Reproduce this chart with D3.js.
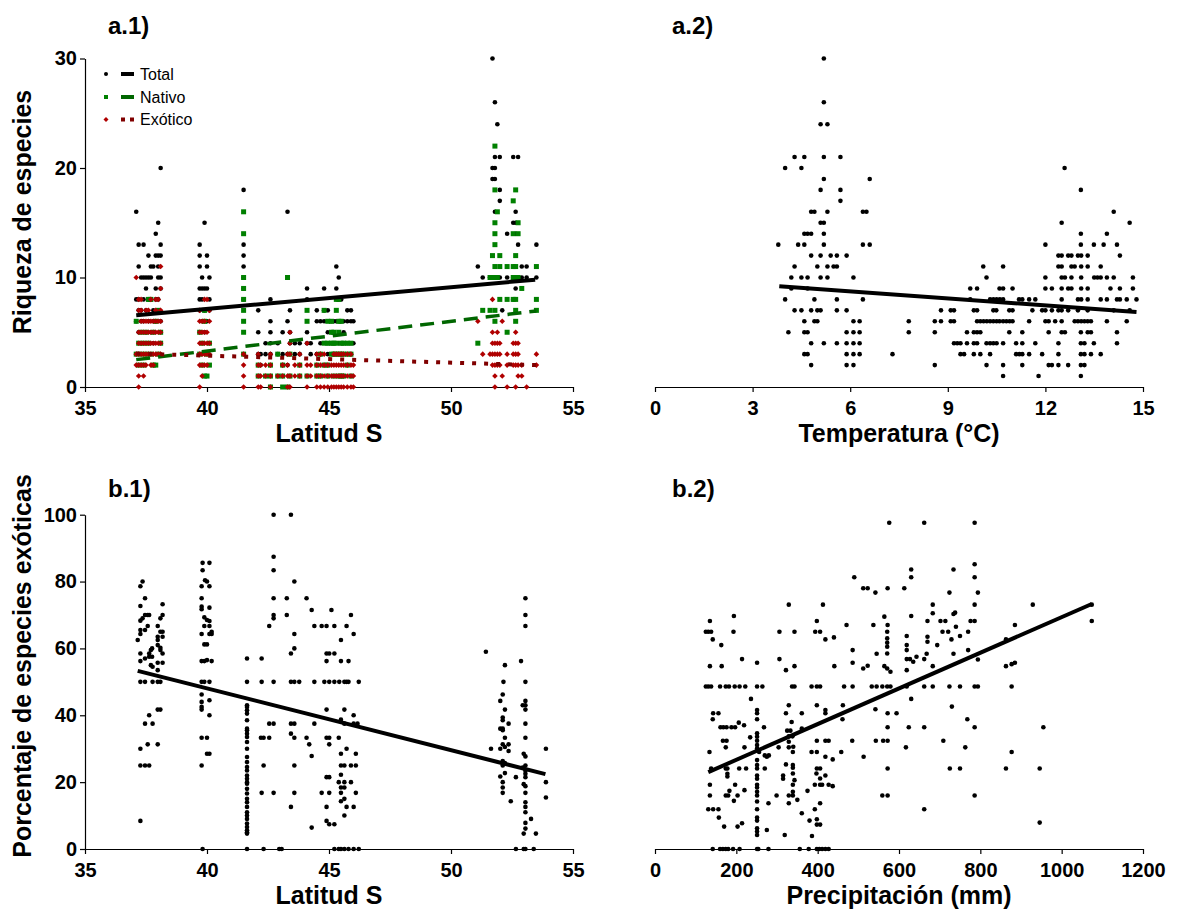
<!DOCTYPE html>
<html>
<head>
<meta charset="utf-8">
<script src="https://d3js.org/d3.v7.min.js"></script>
<style>
  body { margin: 0; background: #fff; }
  svg text { font-family: "Liberation Sans", Arial, sans-serif; }
</style>
</head>
<body>
<div id="chart-area"></div>
<script>
// a.1) riqueza vs latitud, columnas: [latitud, [valores]]
const latTotal = [
  [37.1,[16,8,6]],[37.2,[13,11,8,7,5]],[37.3,[10,7,6,4]],[37.4,[13,10,8,6]],[37.5,[10,9,7,5]],
  [37.6,[12,10,8,6]],[37.7,[11,10,8,5]],[37.8,[11,7,6,4]],[37.9,[14,12,9,8,6]],[38.0,[15,12,11,10,8,7]],
  [38.1,[20,13,12,10,9,6]],
  [39.7,[13,12,11,9,8,7]],[39.8,[10,9,8,6]],[39.9,[15,9,7,5]],[40.0,[12,11,9,6]],[40.1,[10,8,7]],
  [41.5,[18,13,12,11,10,9,8]],
  [42.1,[7,5,3]],[42.2,[3,2]],[42.4,[3,4]],[42.6,[8,6,5,4,3]],[42.9,[3,4]],[43.1,[5,3,2]],
  [43.3,[16,6,3,2]],[43.4,[7,5,4]],[43.6,[4,3]],[43.8,[4,3]],[44.1,[9,8,5,4]],[44.25,[3,4]],
  [44.5,[7,6,3]],[44.65,[6,4,3]],[44.8,[9,7,6]],[44.95,[7,5,4,3]],[45.1,[6,5,4]],[45.2,[6,4,3]],
  [45.3,[11,9,6]],[45.4,[10,8,6,4]],[45.5,[8,6,4,3]],[45.6,[6,5,4]],[45.75,[7,6,4]],[45.9,[7,6,4,3]],
  [46.0,[6,4]],
  [51.1,[11]],[51.3,[10]],[51.6,[10]],[51.7,[30,20,19,10]],[51.8,[26,21,20,19,16,10]],[51.9,[24,10]],
  [52.0,[21,18,17,10]],[52.1,[7]],[52.3,[14,10]],[52.55,[21,15,10,8]],[52.65,[16,15,14,10,9]],
  [52.75,[21,13,10]],[52.9,[11,10]],[53.1,[11,10]],[53.5,[13,10]]
];
const latNativo = [
  [37.1,[6,3]],[37.2,[4,2]],[37.3,[5,3]],[37.4,[4,2]],[37.5,[3,5]],[37.6,[8,4]],[37.7,[8,3]],
  [37.8,[5,2]],[37.9,[2,6]],[38.0,[7,3]],[38.1,[4,5]],
  [39.7,[3,5]],[39.8,[2,4]],[39.9,[1,6,7]],[40.0,[1,3]],[40.1,[4,2]],
  [41.5,[16,14,10,9,8,7,6,5,3]],
  [42.1,[2,1]],[42.4,[1]],[42.6,[2,0,1]],[42.9,[1,3]],[43.1,[1,2,0]],[43.3,[10,0]],[43.4,[3,1]],
  [43.8,[1,2]],[44.1,[7,6,1]],[44.5,[2,1]],[44.65,[3,1]],[44.8,[7,4,2]],[44.95,[6,4,1,2]],
  [45.1,[6,5,4,3]],[45.2,[5,4,3,1]],[45.3,[8,7,4,3]],[45.4,[8,6,5,3,1]],[45.5,[6,4,3,1]],
  [45.6,[4,3,1]],[45.75,[4,3,2]],[45.9,[4,3,1]],
  [51.1,[4]],[51.3,[7]],[51.6,[10,7]],[51.7,[12,10]],[51.8,[22,18,15,14,13,11,10,7,6]],[51.9,[16,10]],
  [52.0,[12,11,8]],[52.3,[11,8,5]],[52.55,[17,14,11,10,8]],[52.65,[18,12,11,10,8,7,6]],
  [52.75,[15,14,10]],[52.9,[9]],[53.5,[11,8,7]]
];
const latExotico = [
  [37.1,[10,3,2]],[37.2,[8,7,5,4,3,2,1,0]],[37.3,[8,7,6,5,4,3,2]],[37.4,[6,5,4,3,2,1]],
  [37.5,[7,6,5,4,3,2]],[37.6,[7,6,5,4,3]],[37.7,[8,6,5,4,3,2]],[37.8,[6,5,4,3,2]],
  [37.9,[8,7,6,5,4,3]],[38.0,[8,6,5,4,3]],[38.1,[11,9,7,6,5,4,3]],
  [39.7,[7,6,5,4,3,2,0]],[39.8,[6,5,4,3,2,1]],[39.9,[8,6,5,4,3,2]],[40.0,[8,5,4,3,2]],[40.1,[7,6,4,3]],
  [41.5,[3,2,1,0]],
  [42.1,[3,2,1,0]],[42.2,[2,1,0]],[42.4,[2,1]],[42.6,[3,2,1,0]],[42.9,[1]],[43.1,[2,1]],
  [43.3,[3,2,1,0]],[43.4,[5,4,3,1,0]],[43.6,[2,1]],[43.8,[3,2,1]],[44.1,[4,2,1,0]],[44.25,[2,1]],
  [44.5,[3,2,1,0]],[44.65,[3,2,1,0]],[44.8,[3,2,1,0]],[44.95,[2,1,0]],[45.1,[2,1,0]],
  [45.2,[3,2,1,0]],[45.3,[3,2,1,0]],[45.4,[3,2,1,0]],[45.5,[3,2,1,0]],[45.6,[3,2,1,0]],
  [45.75,[3,2,1,0]],[45.9,[3,2,1,0]],[46.0,[2,1,0]],
  [51.1,[6]],[51.3,[3]],[51.6,[3]],[51.7,[8,5,4,3,2]],[51.8,[4,3,2,1,0]],[51.9,[5,4,3,2]],
  [52.0,[4,3,2]],[52.1,[6,1]],[52.3,[3,2,0]],[52.55,[4,3,2]],[52.65,[5,4,3,2,0]],
  [52.75,[4,3,2,1]],[52.9,[2,1]],[53.1,[0]],[53.5,[3,2]]
];

// a.2) riqueza vs temperatura, filas: [valor, [temperaturas]]
const tempTotal = [
  [30,[5.19]],[26,[5.19]],[24,[5.09,5.3]],[21,[4.29,4.59,5.19,5.7]],[20,[4.0,4.5,12.59]],
  [19,[5.19,6.6]],[18,[5.09,5.7,13.09]],[17,[5.7]],[16,[4.8,4.9,5.3,6.39,6.5,14.1]],
  [15,[5.09,5.19,12.5,14.59]],[14,[4.59,4.69,4.8,5.19,13.09,13.89]],
  [13,[3.79,4.4,4.59,5.19,6.39,6.6,12.0,13.09,13.49,13.79,14.2]],
  [12,[4.8,5.09,5.4,5.59,5.89,12.4,12.5,12.7,12.8,13.0,13.1,13.3,14.29]],
  [11,[4.29,4.99,5.3,5.49,5.59,10.09,10.7,12.4,12.5,12.8,12.9,13.1,13.3,13.7]],
  [10,[4.19,4.5,4.69,5.09,5.3,6.1,10.19,12.0,12.5,12.6,12.8,13.1,13.5,13.6,13.7,13.89,14.1,14.69]],
  [9,[4.19,4.69,9.69,9.9,10.59,10.7,10.99,12.0,12.2,12.5,12.7,12.8,13.1,13.3,14.0,14.29,14.69]],
  [8,[4.0,4.9,5.59,6.39,9.69,10.3,10.4,10.5,10.6,10.7,11.19,11.29,11.5,11.69,12.5,13.0,13.1,13.3,13.7,13.89,14.2,14.29,14.5,14.8]],
  [7,[4.29,4.5,4.8,4.99,5.09,5.59,5.89,8.79,9.09,9.19,9.8,9.9,10.4,10.49,10.89,10.99,11.6,11.9,12.0,12.2,12.4,12.5,12.7,13.0,13.3,14.1,14.59]],
  [6,[4.59,4.9,4.99,6.1,6.29,7.8,8.6,8.79,9.09,9.19,9.9,10.0,10.1,10.2,10.3,10.4,10.5,10.59,10.7,10.8,10.9,10.99,11.5,12.0,12.1,12.3,12.5,12.9,13.0,13.1,13.2,13.3,13.4,13.89,14.5]],
  [5,[4.1,4.59,4.69,5.89,6.1,6.29,7.8,8.6,9.59,9.8,9.9,10.0,10.89,11.29,12.1,12.5,12.6,13.09,13.3,13.4,14.2]],
  [4,[4.8,5.19,5.59,5.89,6.1,6.29,9.19,9.29,9.39,9.59,9.8,9.9,10.19,10.3,10.4,10.5,10.7,11.1,11.29,11.69,12.4,13.09,13.2,13.49,14.2]],
  [3,[4.59,4.69,5.89,6.1,6.29,7.3,9.39,9.5,9.8,10.0,10.3,11.1,11.2,11.29,11.5,11.9,12.4,13.09,13.2,13.4,13.7]],
  [2,[4.8,5.89,6.1,8.6,10.19,10.7,11.29,12.1,12.2,12.4,12.7,13.09,13.2]],
  [1,[10.7,11.79,13.09]]
];

// b.1) % exoticas vs latitud: [latitud, %]
const latPct = [
  [37.36,80],[37.27,78.6],[37.46,75],[37.27,72.7],[38.18,73.2],[37.46,70],[37.57,70],[37.63,70],[38.18,70],
  [37.36,69],[37.27,68.3],[38.09,69],[37.57,66.7],[37.98,66.7],[37.27,65.5],[37.46,65.5],[38.09,65],[38.18,65],
  [37.27,64.3],[37.98,63.5],[38.18,63.5],[37.16,62.5],[37.98,62.5],[37.98,61],[38.09,60.2],[37.75,60],[37.7,59.5],
  [38.09,59.5],[37.63,58.5],[37.27,58.5],[38.18,58.5],[37.46,57],[37.63,57.5],[37.75,57.5],[37.27,56.2],[37.98,55.7],
  [38.18,55.7],[37.7,55],[37.77,54.5],[37.98,53.5],[37.27,50],[37.46,50],[37.77,50],[37.98,50],[38.09,50],
  [37.98,41.7],[38.09,41.7],[37.63,40],[37.46,37.5],[37.77,37.5],[37.57,31.3],[37.98,31.3],[37.27,30],
  [37.27,25],[37.46,25],[37.63,25],[37.27,8.4],
  [39.82,85.6],[40.1,85.6],[39.82,83.4],[40.0,80],[39.92,80.4],[39.78,78.6],[40.1,78.6],[39.78,75],[39.78,72.5],
  [39.78,71.7],[40.1,72.2],[39.89,69.3],[40.0,68.5],[40.1,68.2],[39.89,66.7],[40.1,66.7],[40.19,65],[39.78,64.3],
  [40.1,64.3],[40.19,64.3],[39.89,61.2],[40.0,61.2],[39.78,56.2],[39.89,56.2],[40.0,56.5],[40.19,56.2],[39.78,50],
  [39.89,50],[40.1,50],[39.78,46.2],[40.1,44.5],[39.78,44],[39.78,42.5],[39.78,41.7],[40.1,40],[39.78,33.3],
  [40.0,33.3],[40.0,28.5],[40.1,28.5],[39.78,25],[39.82,0],
  [41.64,57],[41.64,50],[41.64,43],[41.64,42.5],[41.64,41.5],[41.64,40.5],[41.64,38.5],[41.64,36],[41.64,35.5],
  [41.64,34.5],[41.64,33.5],[41.64,32],[41.64,30],[41.64,27.5],[41.64,26],[41.64,24.5],[41.64,23.5],[41.64,22],
  [41.64,21],[41.64,20],[41.64,19.5],[41.64,18],[41.64,16.6],[41.64,15],[41.64,14],[41.64,12.6],[41.64,11],
  [41.64,10],[41.64,9],[41.64,7.6],[41.64,6.6],[41.64,5.6],[41.64,5],[41.64,4.6],[41.64,0],
  [42.73,100],[43.44,100],[42.73,87.4],[42.73,83.4],[43.58,80],[42.73,75],[43.27,75],[44.08,75],[42.73,70],
  [42.73,69],[43.27,70],[44.29,71.5],[45.1,71.5],[42.55,66.7],[44.4,66.7],[44.7,66.7],[44.9,66.7],[45.22,66.7],
  [45.72,66.7],[45.9,70],[46.01,64.3],[43.58,64.3],[43.58,60],[43.44,58.5],[45.49,62.5],[44.9,58.5],[45.01,58.5],
  [45.22,58.5],[42.24,57],[44.9,56.2],[45.49,56.2],[45.8,56.2],[42.24,50],[42.73,50],[43.44,50],[43.58,50],
  [43.78,50],[44.4,50],[44.81,50],[45.01,50],[45.22,50],[45.42,50],[45.63,50],[45.72,50],[45.8,50],[46.22,50],
  [44.9,41.7],[45.63,41.7],[45.49,38.7],[46.01,40],[46.01,37.5],[46.17,37.5],[45.63,37.5],[42.55,37.5],[42.73,37.5],
  [43.44,37.5],[43.58,37.5],[44.4,37.5],[43.44,34.5],[43.58,33.3],[42.21,33.3],[42.32,33.3],[42.55,33.3],
  [44.08,33.3],[44.9,33.3],[45.01,33.3],[45.4,33.3],[44.19,31.3],[45.01,31.3],[45.72,30],[44.29,27.8],[45.49,28.5],
  [46.1,28.5],[42.32,25],[43.58,25],[45.49,25],[45.63,25],[45.9,25],[46.1,25],[45.49,22.2],[44.9,21.5],[45.01,21.5],
  [45.4,20],[45.63,20],[45.9,20],[45.49,18.4],[45.63,18.4],[42.24,16.8],[42.73,16.8],[43.58,16.8],[44.7,16.8],
  [45.01,16.8],[45.49,16.8],[46.1,16.8],[45.63,15],[45.49,14.3],[43.44,12.6],[44.9,12.6],[45.72,12.6],[46.01,12.6],
  [45.63,10],[44.9,8.4],[45.01,7.4],[45.22,7.4],[44.29,6.4],[42.32,0],[42.96,0],[43.06,0],[45.22,0],[45.4,0],
  [45.49,0],[45.63,0],[45.8,0],[46.01,0],[46.22,0],
  [51.43,59],[52.21,55],[52.87,56.2],[53.05,75],[53.05,70],[53.05,66.7],[52.15,50],[53.05,50],[52.12,46.2],
  [52.02,44.3],[53.05,44.3],[52.94,43],[53.05,43],[52.21,41.7],[53.05,41.7],[52.12,39.3],[52.12,38.5],[52.36,37.5],
  [53.05,37.5],[52.02,36],[52.12,36],[52.12,35.5],[52.21,33.3],[53.05,33.3],[52.12,31.3],[52.36,31.3],[52.21,30.5],
  [51.64,30],[52.02,30],[53.89,30],[52.36,29.3],[52.98,28.5],[53.05,27.7],[52.12,26.3],[52.21,25.7],[52.12,25],
  [53.05,25],[52.94,24.4],[53.05,23.4],[52.21,22.7],[53.05,22.5],[52.02,21.7],[52.66,21.5],[53.05,21.5],[52.12,20],
  [52.98,19.4],[53.05,18.8],[53.89,20],[52.12,18.4],[52.12,16.8],[53.05,16.8],[52.45,14.3],[53.89,15.4],[53.05,14],
  [53.05,12.6],[53.05,11],[53.28,9],[53.05,7.8],[53.05,6.1],[52.98,4.6],[53.48,4.6],[52.66,0],[52.98,0],[53.05,0],
  [53.39,0]
];

// b.2) % exoticas vs precipitacion: [mm, %]
const precPct = [
  [576,97.6],[662,97.6],[786,97.6],[786,85.2],[734,83.6],[630,83.6],[490,81.3],[630,81.3],[786,81.3],[512,78],
  [523,78],[572,78],[613,78],[542,76.7],[724,76.7],[794,76.7],[329,73.1],[413,73.1],[683,73.1],[786,73.1],
  [929,73.1],[1074,73.1],[683,70.5],[738,70.7],[734,70.3],[135,68.2],[398,68.2],[630,69.7],[670,68.2],[702,68.2],
  [714,68.2],[776,68.2],[786,68.2],[1074,68.2],[194,69.7],[471,67],[537,67],[564,69.5],[572,67],[885,67],
  [740,66.5],[125,65],[131,65],[138,65],[193,65],[306,65],[343,65],[394,65],[406,65],[571,65],[707,65],[721,65],
  [770,65],[142,62.7],[440,63.3],[419,62.7],[571,63],[619,63.7],[670,63.5],[670,62],[750,63.7],[729,62.7],
  [863,62.7],[163,61],[571,61.7],[571,60.5],[619,61],[694,61],[486,59.5],[770,59.5],[571,58.5],[794,56.7],
  [545,58.4],[668,58.4],[619,59.5],[734,58.4],[214,56.8],[306,56.8],[619,56.8],[627,56.8],[635,56],[643,57.5],
  [662,56.8],[251,55.7],[486,55.7],[135,54.7],[164,54.7],[343,54.7],[441,54.7],[523,54.8],[564,54.7],[863,54.7],
  [877,55.3],[885,55.7],[322,53.5],[512,54],[571,54],[579,53],[619,53.5],[683,54.7],
  [125,48.6],[131,48.6],[138,48.6],[160,48.6],[174,48.6],[182,48.6],[196,48.6],[208,48.6],[222,48.6],[251,48.6],
  [264,48.6],[337,48.6],[343,48.6],[385,48.6],[398,48.6],[406,48.6],[465,48.6],[486,48.6],[533,48.6],[545,48.6],
  [559,48.6],[571,48.6],[579,48.6],[619,48.6],[662,48.6],[683,48.6],[724,48.6],[750,48.6],[786,48.6],[794,48.6],
  [877,48.6],
  [236,44.9],[630,44.9],[329,43],[462,43],[419,41.6],[419,40.6],[398,43],[143,40.6],[156,40.6],[251,41.6],
  [251,40.6],[251,38.8],[322,40.6],[361,40.6],[542,41.8],[572,40.6],[594,40.6],[142,38.8],[461,38.8],[768,38.8],
  [730,42.6],[161,36.4],[168,36.4],[176,36.4],[188,36.4],[197,36.4],[206,37.8],[219,37],[268,36.4],[361,36],
  [336,38],[325,35.4],[333,35.4],[572,36.4],[624,36.4],[662,36.4],[786,36.4],[955,36.4],[251,34.6],[251,33.6],
  [234,33.4],[329,33.7],[338,33.7],[167,32.4],[176,32.4],[251,32.4],[398,32.4],[419,32.4],[427,32.4],[485,32.4],
  [543,32.4],[561,32.4],[572,32.4],[709,32.4],[329,32.1],[340,30.6],[251,31.1],[174,30.4],[220,30.4],[251,30.1],
  [304,30.4],[329,30.4],[617,30.4],[763,30.4],[134,29],[256,29],[339,29],[385,29],[398,29],[458,29],[877,29],
  [270,28],[280,28],[275,27.6],[419,27.6],[437,26.8],[513,27.6],[251,26.6],[251,25.1],[322,25.3],[339,25.1],
  [138,24.1],[174,24.1],[178,24.1],[207,24.1],[224,24.1],[251,24.1],[270,24.1],[339,24.3],[398,24.1],[406,24.1],
  [572,24.1],[725,24.1],[750,24.1],[863,24.1],[946,24.1],[178,22.5],[178,21.7],[251,22],[251,21],[315,22],
  [315,21],[339,22.6],[397,22.6],[419,22],[406,21.1],[343,20.6],[135,19.2],[197,19.2],[251,19.2],[251,18.4],
  [339,19.2],[393,19.2],[406,19.2],[411,19.2],[427,19.2],[437,18.8],[183,17.4],[220,17.6],[251,17.1],[339,17.1],
  [375,17.4],[135,16],[174,16],[180,16],[203,16],[251,16],[299,16],[329,16],[339,16],[559,16],[572,16],[786,16],
  [194,14.4],[251,14.2],[279,13.7],[350,14.7],[406,13.7],[329,13.7],[131,11.9],[143,11.9],[156,11.9],[251,11.9],
  [393,11.9],[662,11.9],[157,9.4],[251,9.4],[251,8.5],[361,10.7],[380,8.5],[398,8.9],[946,7.9],[170,6.7],
  [203,6.7],[214,7.7],[275,5.7],[398,7.3],[406,7.3],[251,6.2],[251,5.2],[251,4.2],[319,4.2],[386,3.9],
  [142,0],[160,0],[167,0],[174,0],[180,0],[192,0],[208,0],[251,0],[254,0],[279,0],[356,0],[378,0],[398,0],
  [404,0],[411,0],[419,0],[427,0]
];

// rectas de ajuste (extremos)
const fitLatTotal = [[37.1, 6.55], [53.45, 9.8]];
const fitLatNativo = [[37.1, 2.5], [53.5, 6.95]];
const fitLatExotico = [[37.1, 3.05], [53.5, 2.0]];
const fitTemp = [[3.82, 9.2], [14.8, 6.85]];
const fitLatPct = [[37.16, 53.3], [53.87, 22.4]];
const fitPrecPct = [[131, 23.0], [1074, 73.3]];

const legendItems = ["Total", "Nativo", "Exótico"];

let svg = d3.select("#chart-area")
    .append("svg")
        .attr("width", 1184)
        .attr("height", 910)

// scales
let xLat = d3.scaleLinear().domain([35, 55]).range([85, 573]);
let xTemp = d3.scaleLinear().domain([0, 15]).range([655, 1143]);
let xPrec = d3.scaleLinear().domain([0, 1200]).range([655, 1143]);
let yRiq = d3.scaleLinear().domain([0, 30]).range([387, 58.5]);
let yPct = d3.scaleLinear().domain([0, 100]).range([849, 514.7]);

const cols = c => c.flatMap(d => d[1].map(v => [d[0], v]));
const rows = r => r.flatMap(d => d[1].map(t => [t, d[0]]));

function styleAxis(g) {
    g.attr("font-family", null).attr("font-size", null);
    g.select(".domain").attr("stroke", "#000").attr("stroke-width", 1.2);
    g.selectAll(".tick line").attr("stroke", "#000").attr("stroke-width", 1.2);
    g.selectAll(".tick text")
        .attr("font-size", "20px")
        .attr("font-weight", "bold")
        .attr("fill", "#000");
}

function xAxis(scale, y, ticks) {
    svg.append("g")
        .attr("transform", "translate(0, " + y + ")")
        .call(d3.axisBottom(scale).tickValues(ticks).tickFormat(d3.format("d"))
            .tickSize(5).tickSizeOuter(0).tickPadding(9))
        .call(styleAxis);
}

function yAxis(scale, x, ticks) {
    svg.append("g")
        .attr("transform", "translate(" + x + ", 0)")
        .call(d3.axisLeft(scale).tickValues(ticks).tickFormat(d3.format("d"))
            .tickSize(5).tickSizeOuter(0).tickPadding(3))
        .call(styleAxis);
}

xAxis(xLat, 387, [35, 40, 45, 50, 55]);
xAxis(xTemp, 387, [0, 3, 6, 9, 12, 15]);
xAxis(xLat, 849, [35, 40, 45, 50, 55]);
xAxis(xPrec, 849, [0, 200, 400, 600, 800, 1000, 1200]);
yAxis(yRiq, 85, [0, 10, 20, 30]);
yAxis(yPct, 85, [0, 20, 40, 60, 80, 100]);

// marks
function dots(data, x, y) {
    svg.append("g").selectAll("circle")
        .data(data)
        .enter().append("circle")
            .attr("cx", d => x(d[0]))
            .attr("cy", d => y(d[1]))
            .attr("r", 2.3)
            .attr("fill", "#000");
}

function squares(data, x, y) {
    svg.append("g").selectAll("rect")
        .data(data)
        .enter().append("rect")
            .attr("x", d => x(d[0]) - 2.5)
            .attr("y", d => y(d[1]) - 2.5)
            .attr("width", 5)
            .attr("height", 5)
            .attr("fill", "#008000");
}

function diamonds(data, x, y) {
    svg.append("g").selectAll("path")
        .data(data)
        .enter().append("path")
            .attr("d", d3.symbol(d3.symbolDiamond2, 20))
            .attr("transform", d => "translate(" + x(d[0]) + "," + y(d[1]) + ")")
            .attr("fill", "#b00000");
}

function fit(data, x, y, color, width, dash) {
    svg.append("path")
        .datum(data)
        .attr("fill", "none")
        .attr("stroke", color)
        .attr("stroke-width", width)
        .attr("stroke-dasharray", dash)
        .attr("d", d3.line().x(d => x(d[0])).y(d => y(d[1])));
}

dots(cols(latTotal), xLat, yRiq);
squares(cols(latNativo), xLat, yRiq);
diamonds(cols(latExotico), xLat, yRiq);
fit(fitLatTotal, xLat, yRiq, "#000", 4, null);
fit(fitLatNativo, xLat, yRiq, "#006600", 3.5, "14,8");
fit(fitLatExotico, xLat, yRiq, "#800000", 4, "4,8");

dots(rows(tempTotal), xTemp, yRiq);
fit(fitTemp, xTemp, yRiq, "#000", 4, null);

dots(latPct, xLat, yPct);
fit(fitLatPct, xLat, yPct, "#000", 4, null);

dots(precPct, xPrec, yPct);
fit(fitPrecPct, xPrec, yPct, "#000", 4, null);

// legend
let legend = svg.append("g");
let ly = [74, 97, 119.5];
legend.append("circle").attr("cx", 106).attr("cy", ly[0]).attr("r", 2).attr("fill", "#000");
legend.append("rect").attr("x", 104).attr("y", ly[1] - 2).attr("width", 4).attr("height", 4).attr("fill", "#008000");
legend.append("path").attr("d", d3.symbol(d3.symbolDiamond2, 16))
    .attr("transform", "translate(106," + ly[2] + ")").attr("fill", "#b00000");
legend.append("line").attr("x1", 121).attr("x2", 134).attr("y1", ly[0]).attr("y2", ly[0])
    .attr("stroke", "#000").attr("stroke-width", 4);
legend.append("line").attr("x1", 121).attr("x2", 134).attr("y1", ly[1]).attr("y2", ly[1])
    .attr("stroke", "#006600").attr("stroke-width", 4);
legend.append("line").attr("x1", 121).attr("x2", 134).attr("y1", ly[2]).attr("y2", ly[2])
    .attr("stroke", "#800000").attr("stroke-width", 4).attr("stroke-dasharray", "4,5");
legend.selectAll("text")
    .data(legendItems)
    .enter().append("text")
        .attr("x", 140)
        .attr("y", (d, i) => ly[i] + 5.5)
        .attr("font-size", "16px")
        .attr("fill", "#000")
        .text(d => d);

// titles
function label(x, y, txt, size, rotate) {
    svg.append("text")
        .attr("transform", "translate(" + x + "," + y + ")" + (rotate ? " rotate(-90)" : ""))
        .attr("text-anchor", rotate || size == 25 ? "middle" : "start")
        .attr("font-size", size + "px")
        .attr("font-weight", "bold")
        .attr("fill", "#000")
        .text(txt);
}

label(108, 34, "a.1)", 24);
label(672, 34, "a.2)", 24);
label(108, 497, "b.1)", 24);
label(672, 497, "b.2)", 24);

label(329, 442, "Latitud S", 25);
label(899, 442, "Temperatura (°C)", 25);
label(329, 904, "Latitud S", 25);
label(899, 904, "Precipitación (mm)", 25);
label(31, 212, "Riqueza de especies", 25, true);
label(31, 666, "Porcentaje de especies exóticas", 25, true);
</script>
</body>
</html>
